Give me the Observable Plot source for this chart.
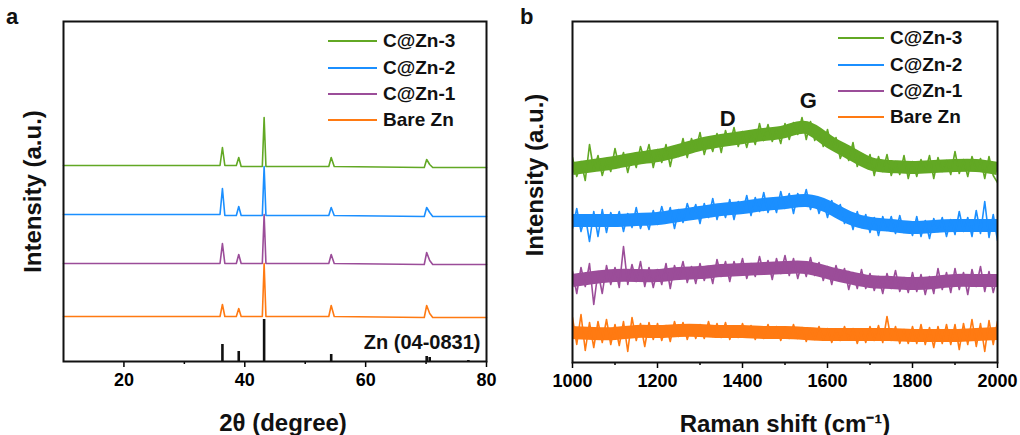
<!DOCTYPE html>
<html>
<head>
<meta charset="utf-8">
<script src="https://cdn.jsdelivr.net/npm/d3@7"></script>
<script src="https://cdn.jsdelivr.net/npm/@observablehq/plot@0.6"></script>
<style>
  body { margin: 0; background: #fff; font-family: "Liberation Sans", Arial, sans-serif; }
  #wrap { position: relative; width: 1020px; height: 435px; display: flex; overflow: hidden; }
  .panel { position: relative; width: 510px; height: 435px; }
  .plabel { position: absolute; font-weight: bold; font-size: 22px; color: #111; }
  .legend { position: absolute; font-weight: bold; font-size: 19px; color: #111; }
  .legend .row { display: flex; align-items: center; height: 26.4px; }
  .legend .sw { height: 2px; margin-right: 6px; }
</style>
</head>
<body>
<div id="wrap">
  <div class="panel" id="pa"><div class="plabel" style="left:6px;top:4px">a</div></div>
  <div class="panel" id="pb"><div class="plabel" style="left:10px;top:4px">b</div></div>
</div>
<script>
// ---------- shared ----------
const seriesNames = ["C@Zn-3", "C@Zn-2", "C@Zn-1", "Bare Zn"];
const seriesColors = ["#62a824", "#1b8fff", "#9b4d99", "#ff7a12"];

// ---------- panel a : XRD ----------
const xrdTheta = [10, 35.9, 36.3, 36.7, 38.6, 39.0, 39.4, 42.9, 43.2, 43.5, 53.9, 54.3, 54.8, 69.7, 70.1, 70.6, 71.1, 80];
const xrdGreen  = [196, 196, 214, 196, 196, 204, 195, 195, 244, 195, 195, 204, 195, 194, 202, 197, 194, 194];
const xrdBlue   = [147, 147, 173, 146, 146, 155, 146, 146, 195, 146, 146, 154, 146, 145, 154, 149, 145, 145];
const xrdPurple = [98, 98, 118, 98, 98, 107, 98, 98, 147, 98, 98, 107, 98, 97, 109, 101, 97, 97];
const xrdOrange = [45, 45, 57, 45, 45, 53, 45, 45, 98, 45, 45, 56, 45, 44, 56, 48, 44, 44];
const refTheta = [36.3, 39.0, 43.2, 54.3, 70.1, 70.6, 77.0];
const refInt   = [17, 10, 42, 7, 5, 4, 1];
const xrdTicks = [20, 40, 60, 80];
const xrdMinor = [30, 50, 70];

// ---------- panel b : Raman ----------
const ramanShift = d3.range(1000, 2001, 10);
const ramanGreen = [
  205,186,201,182,218,192,207,187,202,191,
  214,195,210,190,208,195,216,202,218,195,
  213,200,218,196,216,206,224,205,224,212,
  230,208,223,211,229,210,232,218,235,216,
  231,215,231,218,239,222,238,221,233,219,
  239,223,240,228,245,223,241,222,232,216,
  233,214,225,204,215,202,220,196,209,196,
  208,187,206,191,208,187,201,188,207,184,
  201,186,203,191,207,184,205,191,202,188,
  211,189,203,186,206,192,204,184,206,187,
  180];
const ramanBlue = [
  134,154,131,147,121,151,126,153,130,150,
  137,151,131,149,135,155,134,146,133,152,
  138,156,140,155,134,153,140,159,146,158,
  139,159,145,164,143,158,145,163,143,161,
  150,167,147,165,151,170,150,164,150,171,
  154,169,149,169,157,173,153,166,149,162,
  145,162,146,158,139,150,133,151,135,148,
  130,145,127,146,132,146,129,147,130,140,
  127,146,126,142,124,144,131,145,126,143,
  128,151,131,145,126,152,129,161,125,148,
  122];
const ramanPurple = [
  91,69,95,76,99,58,91,69,97,78,
  95,75,116,78,98,81,101,76,95,75,
  93,78,99,74,97,84,101,80,96,79,
  99,82,96,79,103,86,101,81,101,88,
  104,84,99,86,106,89,102,83,104,89,
  107,87,104,84,100,86,105,87,100,82,
  96,78,97,82,94,73,90,74,93,74,
  89,72,86,69,89,74,92,71,85,70,
  90,71,88,68,86,69,94,73,90,70,
  94,73,90,68,93,76,96,71,91,70,
  87];
const ramanOrange = [
  45,18,48,12,40,15,41,20,43,18,
  38,17,41,11,45,22,39,16,40,23,
  39,22,37,21,41,26,40,23,37,24,
  38,24,41,26,39,25,40,23,36,25,
  39,26,37,23,35,24,38,25,36,22,
  35,24,38,24,35,21,34,23,36,23,
  34,20,33,22,36,23,34,19,33,20,
  36,22,37,20,46,22,36,19,33,19,
  36,19,38,18,35,15,36,19,38,18,
  38,13,39,18,43,16,39,11,42,18,
  41];
// smoothed trend of each noisy band (read every 50 cm-1)
const trendShift  = d3.range(1000, 2001, 50);
const trendGreen  = [194,197,200,204,207,212,218,222,225,228,231,235,222,210,199,196,195,196,197,197,194];
const trendBlue   = [142,142,142,143,144,147,150,153,155,158,160,162,156,145,139,137,135,136,137,137,137];
const trendPurple = [82,85,87,87,87,89,90,92,93,94,95,95,90,85,81,80,79,80,82,82,82];
const trendOrange = [30,29,29,31,31,32,32,31,31,30,30,29,28,28,28,28,27,27,27,28,29];
const ramanTicks = [1000, 1200, 1400, 1600, 1800, 2000];
const ramanMinor = [1100, 1300, 1500, 1700, 1900];
const bandLabels = [{t: "D", x: 1365, y: 244}, {t: "G", x: 1555, y: 262}];

// ---------- build ----------
const FONT = '"Liberation Sans", Arial, sans-serif';
const rows = (xs, ys) => xs.map((x, i) => ({x, y: ys[i]}));

const xrdSeries = [xrdGreen, xrdBlue, xrdPurple, xrdOrange];
const plotA = Plot.plot({
  width: 510, height: 435,
  marginLeft: 63, marginRight: 24, marginTop: 21, marginBottom: 74,
  style: {fontFamily: FONT, background: "white", overflow: "visible"},
  x: {domain: [10, 80]},
  y: {domain: [0, 340], axis: null},
  marks: [
    Plot.ruleX(refTheta.map((x, i) => ({x, h: refInt[i]})), {x: "x", y1: 0, y2: "h", stroke: "#111", strokeWidth: 2.6}),
    ...xrdSeries.slice().reverse().map((ys, k) =>
      Plot.line(rows(xrdTheta, ys), {x: "x", y: "y", stroke: seriesColors[3 - k], strokeWidth: 1.6})),
    Plot.text(["Zn (04-0831)"], {x: 79, y: 19, text: d => d, textAnchor: "end", fontSize: 20, fontWeight: "bold", fill: "#111"}),
    Plot.axisX({ticks: xrdTicks, tickSize: 6, tickPadding: 6, fontSize: 18, fontWeight: "bold", label: null, strokeWidth: 1.5, tickFormat: d => String(d)}),
    Plot.axisX({ticks: xrdMinor, tickSize: 3, tickFormat: () => "", label: null, strokeWidth: 1.5}),
    Plot.text(["2θ (degree)"], {frameAnchor: "bottom", dx: 8, dy: 69, lineAnchor: "bottom", textAnchor: "middle", text: d => d, fontSize: 24, fontWeight: "bold", fill: "#111"}),
    Plot.text(["Intensity (a.u.)"], {frameAnchor: "left", textAnchor: "middle", rotate: -90, dx: -30, text: d => d, fontSize: 24, fontWeight: "bold", fill: "#111"}),
    Plot.frame({stroke: "#111", strokeWidth: 2})
  ]
});
document.getElementById("pa").prepend(plotA);

const ramanSeries = [ramanGreen, ramanBlue, ramanPurple, ramanOrange];
const trendSeries = [trendGreen, trendBlue, trendPurple, trendOrange];
const plotB = Plot.plot({
  width: 510, height: 435,
  marginLeft: 62, marginRight: 23, marginTop: 21, marginBottom: 73,
  style: {fontFamily: FONT, background: "white", overflow: "visible"},
  x: {domain: [1000, 2000]},
  y: {domain: [0, 341], axis: null},
  marks: [
    ...trendSeries.map((ys, k) =>
      Plot.line(rows(trendShift, ys), {x: "x", y: "y", stroke: seriesColors[k], strokeWidth: 13, strokeLinecap: "butt", curve: "natural", clip: true})),
    ...ramanSeries.map((ys, k) =>
      Plot.line(rows(ramanShift, ys), {x: "x", y: "y", stroke: seriesColors[k], strokeWidth: 1.6, clip: true})),
    Plot.text(bandLabels, {x: "x", y: "y", text: "t", fontSize: 22, fontWeight: "bold", fill: "#111"}),
    Plot.axisX({ticks: ramanTicks, tickSize: 6, tickPadding: 6, fontSize: 18, fontWeight: "bold", label: null, strokeWidth: 1.5, tickFormat: d => String(d)}),
    Plot.axisX({ticks: ramanMinor, tickSize: 3, tickFormat: () => "", label: null, strokeWidth: 1.5}),
    Plot.text(["Raman shift (cm⁻¹)"], {frameAnchor: "bottom", dy: 69, lineAnchor: "bottom", textAnchor: "middle", text: d => d, fontSize: 24, fontWeight: "bold", fill: "#111"}),
    Plot.text(["Intensity (a.u.)"], {frameAnchor: "left", textAnchor: "middle", rotate: -90, dx: -37, dy: -17, text: d => d, fontSize: 24, fontWeight: "bold", fill: "#111"}),
    Plot.frame({stroke: "#111", strokeWidth: 2})
  ]
});
document.getElementById("pb").prepend(plotB);

// legends (HTML, built from the series arrays)
function legend(parent, left, top, swW) {
  const box = document.createElement("div");
  box.className = "legend";
  box.style.left = left + "px";
  box.style.top = top + "px";
  seriesNames.forEach((n, i) => {
    const r = document.createElement("div"); r.className = "row";
    const s = document.createElement("div"); s.className = "sw";
    s.style.width = swW + "px"; s.style.background = seriesColors[i];
    const t = document.createElement("span"); t.textContent = n;
    r.append(s, t); box.append(r);
  });
  document.getElementById(parent).append(box);
}
legend("pa", 328, 28, 49);
legend("pb", 328, 25, 46);
</script>
</body>
</html>
